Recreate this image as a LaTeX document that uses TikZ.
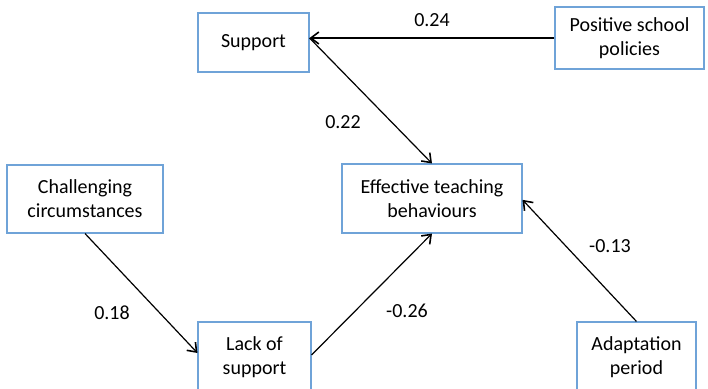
\documentclass[tikz,border=0pt]{standalone}
\usepackage{fontspec}
\setmainfont{Carlito}
\usetikzlibrary{arrows.meta}
\definecolor{boxblue}{RGB}{111,163,216}
\tikzset{
  box/.style={draw=boxblue, line width=0.8pt, align=center, inner sep=0pt,
    font=\fontsize{15}{18}\selectfont},
  conn/.style={line width=0.9pt, -{Straight Barb[length=6pt,width=9pt,line width=1.2pt]}},
  lab/.style={font=\fontsize{15}{18}\selectfont, inner sep=0pt}
}
\begin{document}
\begin{tikzpicture}[x=0.75pt,y=-0.75pt]
\useasboundingbox (0,0) rectangle (708,389);
\node[box, minimum width=111*0.75pt, minimum height=59*0.75pt] (sup) at (253.5,42.5) {Support};
\node[box, minimum width=149*0.75pt, minimum height=62*0.75pt] (pos) at (629.5,38) {Positive school\\policies};
\node[box, minimum width=156*0.75pt, minimum height=68*0.75pt] (chal) at (85,199) {Challenging\\circumstances};
\node[box, minimum width=180*0.75pt, minimum height=69*0.75pt] (eff) at (432,198.5) {Effective teaching\\behaviours};
\node[box, minimum width=113*0.75pt, minimum height=70*0.75pt] (lack) at (254.5,357) {Lack of\\support};
\node[box, minimum width=119*0.75pt, minimum height=70*0.75pt] (adapt) at (636.5,357) {Adaptation\\period};
\coordinate (supin) at (sup.east |- pos.west);
\draw[conn] (pos.west) -- (supin);
\draw[conn] (supin) -- (eff.north);
\draw[conn] (chal.south) -- ([yshift=3pt]lack.west);
\draw[conn] ([yshift=1.5pt]lack.east) -- (eff.south);
\draw[conn] (adapt.north) -- ([yshift=-1pt]eff.east);
\node[lab] (l1) at (432,20) {0.24};
\node[lab] (l2) at (343,122) {0.22};
\node[lab] (l3) at (112,313) {0.18};
\node[lab] (l4) at (407,311) {-0.26};
\node[lab] (l5) at (610,246) {-0.13};
\end{tikzpicture}
\end{document}
